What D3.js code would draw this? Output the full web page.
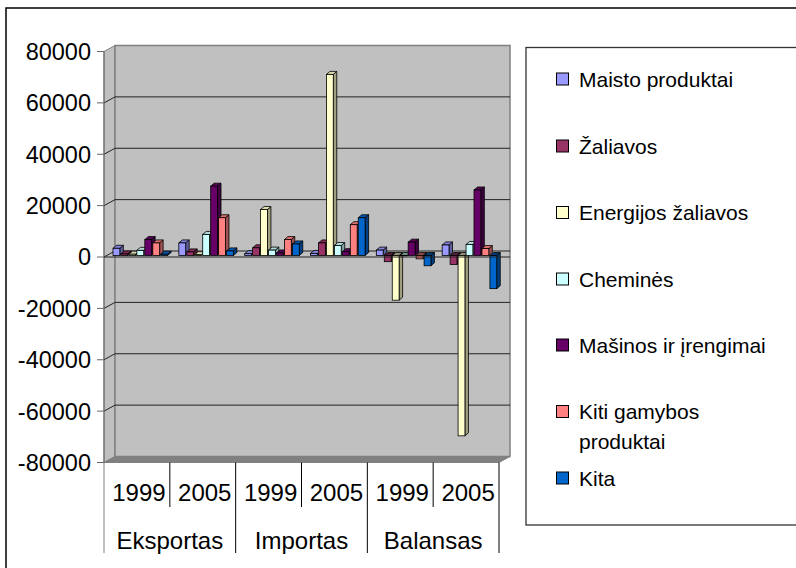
<!DOCTYPE html>
<html>
<head>
<meta charset="utf-8">
<script src="https://cdn.jsdelivr.net/npm/d3@7"></script>
<style>
    body { margin: 0; background: #fff; }
    text { font-family: "Liberation Sans", Arial, sans-serif; fill: #000; }
</style>
</head>
<body>
<script>
// kategorijos (metai + grupe)
let years = ["1999", "2005", "1999", "2005", "1999", "2005"];
let groups = ["Eksportas", "Importas", "Balansas"];
let seriesNames = ["Maisto produktai", "Žaliavos", "Energijos žaliavos", "Cheminės",
    "Mašinos ir įrengimai", "Kiti gamybos produktai", "Kita"];
let seriesColors = ["#9999FF", "#993366", "#FFFFCC", "#CCFFFF", "#660066", "#FF8080", "#0066CC"];

// reiksmes: Eksp 1999, Eksp 2005, Imp 1999, Imp 2005, Bal 1999, Bal 2005
let maisto = [2800, 4900, 700, 800, 2100, 4100];
let zaliavos = [600, 1400, 3000, 4900, -2400, -3500];
let energijos = [500, 300, 17900, 70500, -17400, -70200];
let chemines = [2000, 8200, 2100, 3900, -100, 4300];
let masinos = [6200, 27000, 1000, 1500, 5200, 25500];
let kiti = [4900, 14700, 6200, 12000, -1300, 2700];
let kita = [500, 1800, 4500, 14700, -4000, -12900];
let values = [maisto, zaliavos, energijos, chemines, masinos, kiti, kita];

let yTicks = [-80000, -60000, -40000, -20000, 0, 20000, 40000, 60000, 80000];

let width = 796,
    height = 568,
    left = 104,
    right = 499,
    depthX = 11,
    depthY = -6;

let svg = d3.select("body").append("svg")
    .attr("width", width)
    .attr("height", height);

// remelis
svg.append("path")
    .attr("d", `M 6 ${height} L 6 8 L ${width} 8`)
    .attr("fill", "none")
    .attr("stroke", "#000")
    .attr("stroke-width", 1.5);

let y = d3.scaleLinear().domain([-80000, 80000]).range([462.5, 51.5]);

let x0 = d3.scaleBand()
    .domain(d3.range(years.length))
    .range([left, right]);

let x1 = d3.scaleBand()
    .domain(d3.range(seriesNames.length))
    .range([9, 9 + 7.8 * 7])
    .paddingInner(0.14);

// sienos ir grindys
let wallTop = y(80000), wallBottom = y(-80000);
svg.append("polygon")
    .attr("points", [[left, wallTop], [left + depthX, wallTop + depthY], [left + depthX, wallBottom + depthY], [left, wallBottom]].join(" "))
    .attr("fill", "#c0c0c0")
    .attr("stroke", "#808080");

svg.append("rect")
    .attr("x", left + depthX)
    .attr("y", wallTop + depthY)
    .attr("width", right - left)
    .attr("height", wallBottom - wallTop)
    .attr("fill", "#c0c0c0")
    .attr("stroke", "#808080")
    .attr("stroke-width", 1.5);

svg.append("polygon")
    .attr("points", [[left, wallBottom], [left + depthX, wallBottom + depthY], [right + depthX, wallBottom + depthY], [right, wallBottom]].join(" "))
    .attr("fill", "#808080")
    .attr("stroke", "#808080");

// tinklelis
let grid = svg.append("g");
yTicks.filter(t => Math.abs(t) < 80000).forEach(function (t) {
    grid.append("line")
        .attr("x1", left + depthX).attr("x2", right + depthX)
        .attr("y1", y(t) + depthY).attr("y2", y(t) + depthY)
        .attr("stroke", "#222");
    grid.append("line")
        .attr("x1", left).attr("x2", left + depthX)
        .attr("y1", y(t)).attr("y2", y(t) + depthY)
        .attr("stroke", "#222");
});

// y asis
svg.append("line")
    .attr("x1", left).attr("x2", left)
    .attr("y1", wallTop).attr("y2", wallBottom)
    .attr("stroke", "#666");

let yAxis = svg.append("g");
yTicks.forEach(function (t) {
    yAxis.append("line")
        .attr("x1", left - 7).attr("x2", left)
        .attr("y1", y(t)).attr("y2", y(t))
        .attr("stroke", "#666");
    yAxis.append("text")
        .attr("x", left - 13)
        .attr("y", y(t))
        .attr("dy", "0.36em")
        .attr("text-anchor", "end")
        .style("font-size", "23.5px")
        .text(String(t));   // paprastas bruksnelis, ne minuso zenklas
});

// stulpeliai
let bw = x1.bandwidth(),
    bdx = 3.5,
    bdy = -3,
    base = y(0) - 1.5;

values.forEach(function (series, s) {
    let color = d3.color(seriesColors[s]);
    let g = svg.append("g").attr("class", "series");
    series.forEach(function (v, i) {
        let bx = x0(i) + x1(s);
        let yv = y(v) - 1.5;
        let yt = Math.min(yv, base), yb = Math.max(yv, base);
        g.append("polygon")
            .attr("points", [[bx + bw, yt], [bx + bw + bdx, yt + bdy], [bx + bw + bdx, yb + bdy], [bx + bw, yb]].join(" "))
            .attr("fill", color.darker(1.3))
            .attr("stroke", "#000").attr("stroke-width", 0.8);
        g.append("polygon")
            .attr("points", [[bx, yt], [bx + bdx, yt + bdy], [bx + bw + bdx, yt + bdy], [bx + bw, yt]].join(" "))
            .attr("fill", v < 0 ? color.darker(1.6) : color.darker(0.4))
            .attr("stroke", "#000").attr("stroke-width", 0.8);
        g.append("rect")
            .attr("x", bx).attr("y", yt)
            .attr("width", bw).attr("height", yb - yt)
            .attr("fill", color)
            .attr("stroke", "#000").attr("stroke-width", 0.8);
    });
});

// nulio linija priekyje
svg.append("line")
    .attr("x1", left).attr("x2", right + depthX)
    .attr("y1", y(0)).attr("y2", y(0))
    .attr("stroke", "#222");

// x asis
let xAxis = svg.append("g");
years.forEach(function (yr, i) {
    xAxis.append("text")
        .attr("x", x0(i) + x0.bandwidth() / 2 + 2)
        .attr("y", 492)
        .attr("dy", "0.36em")
        .attr("text-anchor", "middle")
        .style("font-size", "24px")
        .text(yr);
    if (i % 2 == 1) {
        xAxis.append("line")
            .attr("x1", x0(i)).attr("x2", x0(i))
            .attr("y1", wallBottom).attr("y2", 507)
            .attr("stroke", "#000");
    }
});
groups.forEach(function (gr, j) {
    let gx = x0(j * 2);
    xAxis.append("text")
        .attr("x", gx + x0.bandwidth())
        .attr("y", 540)
        .attr("dy", "0.36em")
        .attr("text-anchor", "middle")
        .style("font-size", "24px")
        .text(gr);
});
d3.range(0, years.length + 1, 2).forEach(function (i) {
    let lx = i < years.length ? x0(i) : right;
    xAxis.append("line")
        .attr("x1", lx).attr("x2", lx)
        .attr("y1", wallBottom).attr("y2", 553)
        .attr("stroke", i == 0 ? "#808080" : "#000");
});

// legenda
let legend = svg.append("g");
legend.append("rect")
    .attr("x", 526).attr("y", 47.5)
    .attr("width", 300).attr("height", 477.5)
    .attr("fill", "#fff")
    .attr("stroke", "#333")
    .attr("stroke-width", 1.3);

let legendY = [79, 146, 212.5, 279, 345, 411.5, 478];
seriesNames.forEach(function (name, s) {
    legend.append("rect")
        .attr("x", 556.5).attr("y", legendY[s] - 6)
        .attr("width", 12).attr("height", 12)
        .attr("fill", seriesColors[s])
        .attr("stroke", "#000");
    let t = legend.append("text")
        .attr("x", 579)
        .attr("y", legendY[s])
        .attr("dy", "0.36em")
        .style("font-size", "21px");
    if (name == "Kiti gamybos produktai") {
        t.append("tspan").text("Kiti gamybos");
        t.append("tspan").attr("x", 579).attr("dy", "1.43em").text("produktai");
    } else {
        t.text(name);
    }
});
</script>
</body>
</html>
